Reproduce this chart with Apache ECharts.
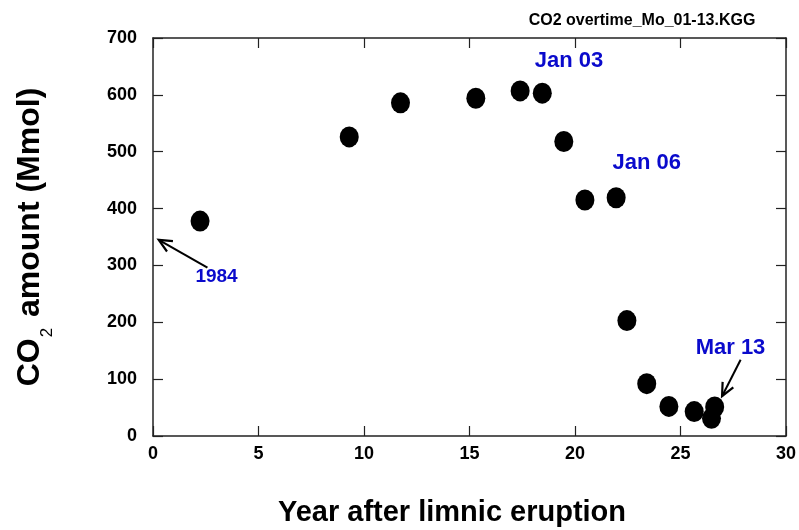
<!DOCTYPE html>
<html>
<head>
<meta charset="utf-8">
<script src="https://cdn.jsdelivr.net/npm/echarts@6/dist/echarts.min.js"></script>
<style>
html,body{margin:0;padding:0;background:#fff;}
#chart{width:799px;height:530px;}
</style>
</head>
<body>
<div id="chart"></div>
<script>
// Data
var years = [2.23, 9.30, 11.73, 15.30, 17.40, 18.45, 19.47, 20.47, 21.95, 22.46, 23.40, 24.45, 25.65, 26.47, 26.62];
var co2   = [378, 526, 586, 594, 607, 603, 518, 415, 419, 203, 92, 52, 43, 31, 51];

var xTicks = [0, 5, 10, 15, 20, 25, 30];
var yTicks = [0, 100, 200, 300, 400, 500, 600, 700];

var annoText = ['Jan 03', 'Jan 06', 'Mar 13', '1984'];
var annoX    = [19.72, 23.4, 27.37, 3.01];
var annoY    = [659, 481, 155, 280];
var annoSize = [22, 22, 22, 19];

// arrows: [tailX, tailY, headX, headY]
var arrows = [[2.58, 296, 0.27, 345], [27.85, 134, 26.97, 70]];

var titleText = 'CO2 overtime_Mo_01-13.KGG';
var xName = 'Year after limnic eruption';

var chart = echarts.init(document.getElementById('chart'));
var FONT = '"Liberation Sans", Arial, sans-serif';
var points = years.map(function (x, i) { return [x, co2[i]]; });

function axisLine() { return {show: true, onZero: false, lineStyle: {color: '#222', width: 1.5}}; }
function tick() { return {show: true, inside: true, length: 10, lineStyle: {color: '#222', width: 1.2}}; }

chart.setOption({
  animation: false,
  backgroundColor: '#fff',
  grid: {left: 153, right: 11, top: 38, bottom: 94, containLabel: false},
  xAxis: [{
    type: 'value', min: xTicks[0], max: xTicks[xTicks.length - 1], interval: 5, position: 'bottom',
    axisLine: axisLine(), axisTick: tick(), splitLine: {show: false},
    axisLabel: {fontFamily: FONT, fontWeight: 'bold', fontSize: 18, color: '#000', margin: 9}
  }, {
    type: 'value', min: xTicks[0], max: xTicks[xTicks.length - 1], interval: 5, position: 'top',
    axisLine: axisLine(), axisTick: tick(), splitLine: {show: false}, axisLabel: {show: false}
  }],
  yAxis: [{
    type: 'value', min: yTicks[0], max: yTicks[yTicks.length - 1], interval: 100, position: 'left',
    axisLine: axisLine(), axisTick: tick(), splitLine: {show: false},
    axisLabel: {fontFamily: FONT, fontWeight: 'bold', fontSize: 18, color: '#000', margin: 16},
    name: '{a|CO}{b|2}{a| amount (Mmol)}',
    nameLocation: 'middle', nameRotate: 90, nameGap: 107,
    nameTextStyle: {
      rich: {
        a: {fontFamily: FONT, fontWeight: 'bold', fontSize: 32, color: '#000'},
        b: {fontFamily: FONT, fontSize: 17, color: '#000', verticalAlign: 'bottom', padding: [0, 2, -10, 1]}
      }
    }
  }, {
    type: 'value', min: yTicks[0], max: yTicks[yTicks.length - 1], interval: 100, position: 'right',
    axisLine: axisLine(), axisTick: tick(), splitLine: {show: false}, axisLabel: {show: false}
  }],
  series: [{
    type: 'scatter',
    data: points,
    symbol: 'circle',
    symbolSize: [19, 21],
    itemStyle: {color: '#000', opacity: 1}
  }]
});

var g = [];
annoText.forEach(function (t, i) {
  var p = chart.convertToPixel({xAxisIndex: 0, yAxisIndex: 0}, [annoX[i], annoY[i]]);
  g.push({type: 'text', x: p[0], y: p[1], style: {
    text: t, fill: '#0a0acc', font: 'bold ' + annoSize[i] + 'px ' + FONT,
    textAlign: 'center', textVerticalAlign: 'middle'
  }});
});
arrows.forEach(function (a) {
  var p1 = chart.convertToPixel({xAxisIndex: 0, yAxisIndex: 0}, [a[0], a[1]]);
  var p2 = chart.convertToPixel({xAxisIndex: 0, yAxisIndex: 0}, [a[2], a[3]]);
  var dx = p2[0] - p1[0], dy = p2[1] - p1[1];
  var L = Math.sqrt(dx * dx + dy * dy); dx /= L; dy /= L;
  var nx = -dy, ny = dx, hl = 13, hw = 6;
  g.push({type: 'line', shape: {x1: p1[0], y1: p1[1], x2: p2[0], y2: p2[1]},
    style: {stroke: '#000', lineWidth: 2}});
  g.push({type: 'polyline', shape: {points: [
      [p2[0] - hl * dx + hw * nx, p2[1] - hl * dy + hw * ny],
      [p2[0], p2[1]],
      [p2[0] - hl * dx - hw * nx, p2[1] - hl * dy - hw * ny]]},
    style: {stroke: '#000', lineWidth: 2.2, fill: null}});
});
g.push({type: 'text', x: 642, y: 21, style: {
  text: titleText, fill: '#000', font: 'bold 16px ' + FONT, textAlign: 'center', textVerticalAlign: 'middle'
}});
g.push({type: 'text', x: 452, y: 513, style: {
  text: xName, fill: '#000', font: 'bold 29px ' + FONT, textAlign: 'center', textVerticalAlign: 'middle'
}});
chart.setOption({graphic: g});
</script>
</body>
</html>
